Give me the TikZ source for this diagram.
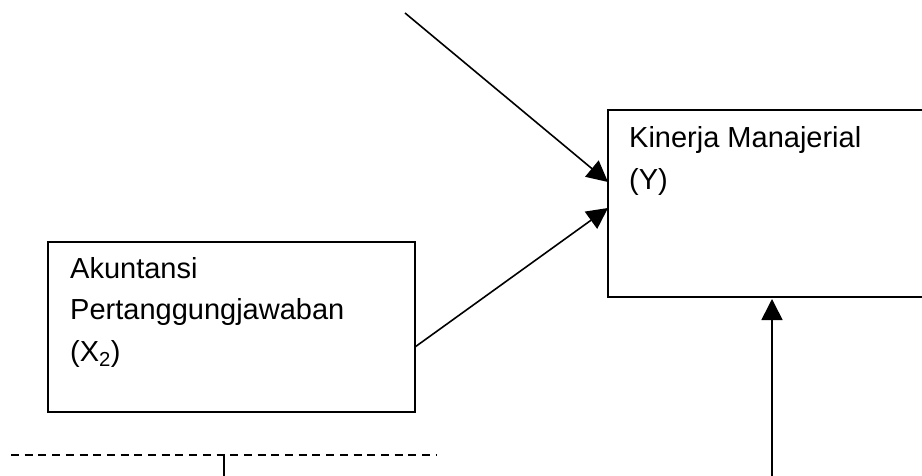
\documentclass[tikz,border=0pt]{standalone}
\usepackage{fontspec}
\setmainfont{Liberation Sans}
\usetikzlibrary{arrows.meta,calc}
\begin{document}
\begin{tikzpicture}[x=1pt,y=-1pt,
  box/.style={draw,line width=1.6pt,inner sep=0pt,outer sep=0pt,anchor=north west},
  lbl/.style={anchor=base west,align=left,inner sep=0pt,font=\fontsize{29}{41.5}\selectfont},
  arr/.style={line width=1.6pt,-{Triangle[length=21pt,width=21pt]}},
  dashline/.style={line width=1.8pt,dash pattern=on 8pt off 5.7pt}]
\clip (0,0) rectangle (922,476);
\node[box,minimum width=367pt,minimum height=170pt] (x2) at (48,242) {};
\node[lbl] (x2t) at (70,361) {Akuntansi\\Pertanggungjawaban\\(X\textsubscript{2})};
\node[box,minimum width=330pt,minimum height=187pt] (y) at (608,110) {};
\node[lbl] (yt) at (629,189.5) {Kinerja Manajerial\\(Y)};
\coordinate (top) at (405,13);
\draw[arr] (top) -- ($(y.north west)+(0,72)$);
\draw[arr] ($(x2.east)+(0,20)$) -- ($(y.north west)+(0,98)$);
\coordinate (bot) at (772,476);
\draw[arr] (bot) -- (772,299);
\coordinate (dl) at (11,455);
\coordinate (dr) at (437,455);
\coordinate (dm) at (224,455);
\coordinate (db) at (224,476);
\draw[dashline] (dl) -- (dr);
\draw[line width=1.6pt] (dm) -- (db);
\end{tikzpicture}
\end{document}
